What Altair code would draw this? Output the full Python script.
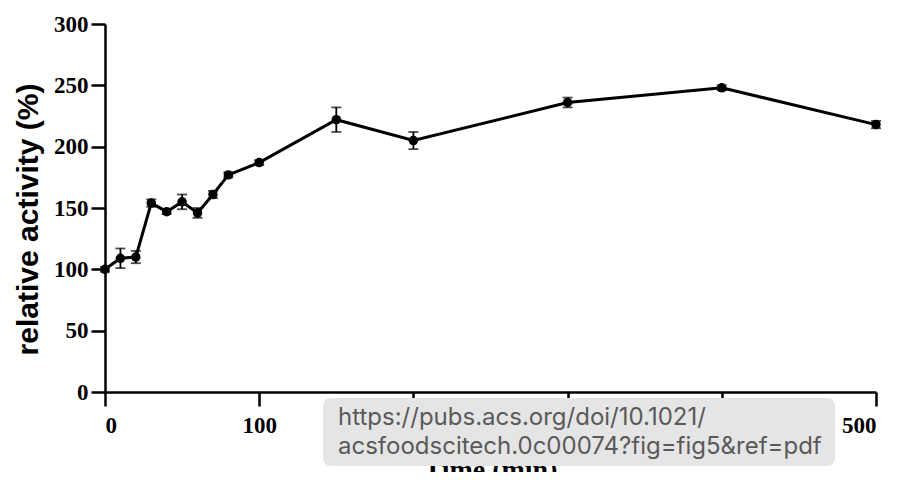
import altair as alt
import pandas as pd

time_min = [0, 10, 20, 30, 40, 50, 60, 70, 80, 100, 150, 200, 300, 400, 500]
activity = [100, 109, 110, 154, 147, 155, 146, 161, 177, 187, 222, 205, 236, 248, 218]
error = [2, 8, 5, 3, 2, 6, 4, 3, 2, 2, 10, 7, 4, 2, 3]

x_ticks = [0, 100, 200, 300, 400, 500]
y_ticks = [0, 50, 100, 150, 200, 250, 300]

url_line1 = "https://pubs.acs.org/doi/10.1021/"
url_line2 = "acsfoodscitech.0c00074?fig=fig5&ref=pdf"

df = pd.DataFrame({
    "time": time_min,
    "activity": activity,
    "lo": [a - e for a, e in zip(activity, error)],
    "hi": [a + e for a, e in zip(activity, error)],
})

x_enc = alt.X("time:Q",
              scale=alt.Scale(domain=[0, 500], nice=False, zero=False),
              axis=alt.Axis(values=x_ticks, title="Time (min)", grid=False, zindex=0,
                            titleX=385, titleY=78, titleBaseline="middle",
                            titleAlign="center",
                            titleFont="Liberation Serif", titleFontSize=28,
                            titleFontWeight="bold", labelPadding=8))
y_enc = alt.Y("activity:Q",
              scale=alt.Scale(domain=[0, 300], nice=False),
              axis=alt.Axis(values=y_ticks, title="relative activity (%)", grid=False, zindex=0,
                            titleX=-77, titleY=195, titleAngle=-90,
                            titleBaseline="middle", titleAlign="center",
                            titleFont="Liberation Sans", titleFontSize=30,
                            titleFontWeight="bold", labelPadding=3))

base = alt.Chart(df)

line = base.mark_line(color="black", strokeWidth=3).encode(x=x_enc, y=y_enc)
points = base.mark_point(filled=True, color="black", size=90, opacity=1).encode(x="time:Q", y="activity:Q")
errs = base.mark_errorbar(ticks=alt.MarkConfig(size=10), color="black", thickness=1.8).encode(
    x="time:Q", y=alt.Y("lo:Q", title="relative activity (%)"), y2="hi:Q")

tip_df = pd.DataFrame({"k": [0]})
tip_box = alt.Chart(tip_df).mark_rect(fill="#e5e5e5", cornerRadius=8, opacity=1).encode(
    x=alt.value(218), x2=alt.value(730), y=alt.value(374), y2=alt.value(442))
tip_t1 = alt.Chart(tip_df).mark_text(align="left", baseline="middle", font="Inter",
                                     fontSize=24, color="#5a5a5a").encode(
    x=alt.value(233), y=alt.value(394), text=alt.value(url_line1))
tip_t2 = alt.Chart(tip_df).mark_text(align="left", baseline="middle", font="Inter",
                                     fontSize=24, color="#5a5a5a").encode(
    x=alt.value(233), y=alt.value(423), text=alt.value(url_line2))

chart = alt.layer(line, errs, points, tip_box, tip_t1, tip_t2).properties(
    width=771, height=368,
    autosize=alt.AutoSizeParams(type="none"),
    padding={"left": 97, "top": 16, "right": 14, "bottom": 80},
).configure_view(stroke=None).configure_axis(
    domainColor="black", domainWidth=2.5, tickColor="black", tickWidth=2.5,
    tickSize=14, labelFont="Liberation Serif", labelFontWeight="bold",
    labelFontSize=23, labelColor="black", titleColor="black",
)

chart.save("out.html", embed_options={"renderer": "svg", "actions": False})
